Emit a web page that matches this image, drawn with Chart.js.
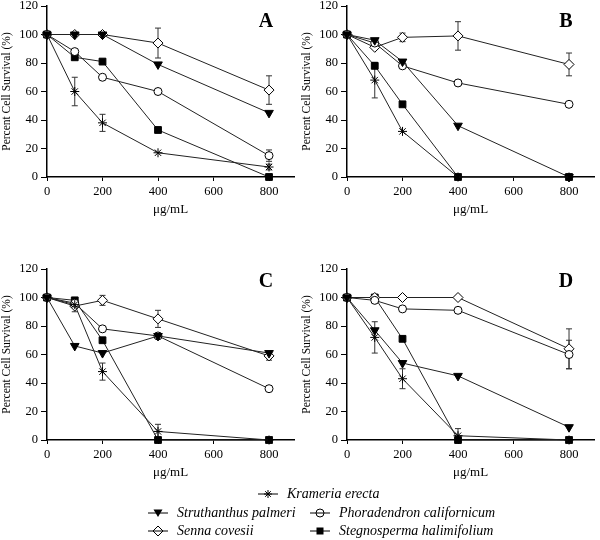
<!DOCTYPE html>
<html lang="en">
<head>
<meta charset="UTF-8">
<title>Percent Cell Survival</title>
<style>
  body { margin: 0; background: #fff; font-family: 'Liberation Serif', 'Times New Roman', serif; color: #000; }
  #page { position: relative; width: 600px; height: 540px; overflow: hidden; }
  .panel { position: absolute; width: 300px; height: 232px; }
  .legend-item { position: absolute; display: flex; align-items: center; height: 18px;
                 font-style: italic; font-size: 14px; white-space: nowrap; z-index: 2; }
  .legend-item svg { margin-right: 9px; }
</style>
</head>
<body>
<div id="page">
  <div class="panel" style="left:0;top:0"><canvas id="chartA" width="300" height="232"></canvas></div>
  <div class="panel" style="left:300px;top:0"><canvas id="chartB" width="300" height="232"></canvas></div>
  <div class="panel" style="left:0;top:263px"><canvas id="chartC" width="300" height="232"></canvas></div>
  <div class="panel" style="left:300px;top:263px"><canvas id="chartD" width="300" height="232"></canvas></div>

  <div class="legend-item" style="left:258px;top:485px">
    <svg width="20" height="12"><line x1="0" y1="6" x2="20" y2="6" stroke="#000"/>
      <g stroke="#000" stroke-width="1"><line x1="6" y1="6" x2="14" y2="6"/><line x1="10" y1="2" x2="10" y2="10"/>
      <line x1="7.2" y1="3.2" x2="12.8" y2="8.8"/><line x1="12.8" y1="3.2" x2="7.2" y2="8.8"/></g></svg>
    <span>Krameria erecta</span>
  </div>
  <div class="legend-item" style="left:148px;top:504px">
    <svg width="20" height="12"><line x1="0" y1="6" x2="20" y2="6" stroke="#000"/>
      <polygon points="5.5,2.5 14.5,2.5 10,10" fill="#000"/></svg>
    <span>Struthanthus palmeri</span>
  </div>
  <div class="legend-item" style="left:310px;top:504px">
    <svg width="20" height="12"><line x1="0" y1="6" x2="20" y2="6" stroke="#000"/>
      <circle cx="10" cy="6" r="4" fill="#fff" stroke="#000"/><line x1="6" y1="6" x2="14" y2="6" stroke="#000"/></svg>
    <span>Phoradendron californicum</span>
  </div>
  <div class="legend-item" style="left:148px;top:522px">
    <svg width="20" height="12"><line x1="0" y1="6" x2="20" y2="6" stroke="#000"/>
      <polygon points="10,1 15,6 10,11 5,6" fill="#fff" stroke="#000"/><line x1="5" y1="6" x2="15" y2="6" stroke="#000"/></svg>
    <span>Senna covesii</span>
  </div>
  <div class="legend-item" style="left:310px;top:522px">
    <svg width="20" height="12"><line x1="0" y1="6" x2="20" y2="6" stroke="#000"/>
      <rect x="6.5" y="2.5" width="7" height="7" fill="#000"/></svg>
    <span>Stegnosperma halimifolium</span>
  </div>
</div>

<script src="https://cdn.jsdelivr.net/npm/chart.js"></script>
<script>
// doses (x) and tick labels
const doses = [0, 100, 200, 400, 800];
const xTicks = [0, 200, 400, 600, 800];
const yTicks = [0, 20, 40, 60, 80, 100, 120];

const seriesNames = ['Krameria erecta', 'Struthanthus palmeri', 'Phoradendron californicum',
                     'Senna covesii', 'Stegnosperma halimifolium'];

// Panel A
const aKrameria     = [100, 60, 38, 17, 7];
const aStruthanthus = [100, 100, 100, 79, 45];
const aPhoradendron = [100, 88, 70, 60, 15];
const aSenna        = [100, 100, 100, 94, 61];
const aStegnosperma = [100, 84, 81, 33, 0];
const aKrameriaErr     = [0, 10, 6, 0, 2];
const aPhoradendronErr = [0, 0, 0, 0, 4];
const aSennaErr        = [0, 0, 0, 10.5, 10];

// Panel B
const bKrameria     = [100, 68, 32, 0, 0];
const bStruthanthus = [100, 96, 81, 36, 0];
const bPhoradendron = [100, 94, 78, 66, 51];
const bSenna        = [100, 91, 98, 99, 79];
const bStegnosperma = [100, 78, 51, 0, 0];
const bKrameriaErr = [0, 12.5, 0, 0, 0];
const bSennaErr    = [0, 0, 3, 10, 8];

// Panel C
const cKrameria     = [100, 95, 48, 6, 0];
const cStruthanthus = [100, 66, 61, 73, 61];
const cPhoradendron = [100, 96, 78, 73, 36];
const cSenna        = [100, 94, 98, 85, 59];
const cStegnosperma = [100, 98, 70, 0, 0];
const cKrameriaErr = [0, 0, 6, 5, 0];
const cSennaErr    = [0, 4, 3.5, 6, 3];

// Panel D
const dKrameria     = [100, 72, 43, 3, 0];
const dStruthanthus = [100, 77, 54, 45, 9];
const dPhoradendron = [100, 98, 92, 91, 60];
const dSenna        = [100, 100, 100, 100, 64];
const dStegnosperma = [100, 100, 71, 0, 0];
const dKrameriaErr     = [0, 11, 7, 5, 0];
const dPhoradendronErr = [0, 0, 0, 0, 10];
const dSennaErr        = [0, 0, 0, 0, 14];

const serif = "'Liberation Serif', 'Times New Roman', serif";
Chart.defaults.font.family = serif;
Chart.defaults.color = '#000';

// marker look per series
const markerStyles = [
  { pointStyle: 'star',     pointRadius: 4.5, pointBackgroundColor: '#000', pointRotation: 0 },
  { pointStyle: 'triangle', pointRadius: 5,   pointBackgroundColor: '#000', pointRotation: 180 },
  { pointStyle: 'circle',   pointRadius: 4,   pointBackgroundColor: '#fff', pointRotation: 0 },
  { pointStyle: 'rectRot',  pointRadius: 5,   pointBackgroundColor: '#fff', pointRotation: 0 },
  { pointStyle: 'rect',     pointRadius: 4.8, pointBackgroundColor: '#000', pointRotation: 0 }
];

// vertical error bars with caps, drawn under the markers
const errorBars = {
  id: 'errorBars',
  beforeDatasetsDraw(chart) {
    const { ctx, scales: { x, y } } = chart;
    ctx.save();
    ctx.strokeStyle = '#333';
    ctx.lineWidth = 1;
    chart.data.datasets.forEach(ds => {
      if (!ds.errorBars) return;
      ds.errorBars.forEach((e, i) => {
        if (!e) return;
        const v = ds.data[i].y;
        const px = x.getPixelForValue(ds.data[i].x);
        const top = y.getPixelForValue(v + e);
        const bot = y.getPixelForValue(v - e);
        ctx.beginPath();
        ctx.moveTo(px, top); ctx.lineTo(px, bot);
        ctx.moveTo(px - 3, top); ctx.lineTo(px + 3, top);
        ctx.moveTo(px - 3, bot); ctx.lineTo(px + 3, bot);
        ctx.stroke();
      });
    });
    ctx.restore();
  }
};

// bold panel letter in the upper right of the plot
const panelLetter = {
  id: 'panelLetter',
  afterDraw(chart, args, opts) {
    const { ctx, chartArea } = chart;
    ctx.save();
    ctx.font = 'bold 20px ' + serif;
    ctx.fillStyle = '#000';
    ctx.textAlign = 'center';
    ctx.textBaseline = 'alphabetic';
    ctx.fillText(opts.text, chartArea.left + 219, chartArea.top + opts.dy);
    ctx.restore();
  }
};

function makePanel(id, letter, letterDy, values, errors) {
  const datasets = values.map((vals, k) => Object.assign({
    label: seriesNames[k],
    data: doses.map((d, i) => ({ x: d, y: vals[i] })),
    errorBars: errors[k],
    borderColor: '#222',
    borderWidth: 1,
    pointBorderColor: '#000',
    pointBorderWidth: 1,
    tension: 0,
    fill: false,
    clip: false
  }, markerStyles[k]));

  new Chart(document.getElementById(id), {
    type: 'line',
    data: { datasets },
    plugins: [errorBars, panelLetter],
    options: {
      responsive: false,
      animation: false,
      layout: { padding: { top: 6, right: 2, left: 0, bottom: 0 } },
      plugins: {
        legend: { display: false },
        tooltip: { enabled: false },
        panelLetter: { text: letter, dy: letterDy }
      },
      scales: {
        x: {
          type: 'linear', min: 0, max: 890,
          afterBuildTicks: s => { s.ticks = xTicks.map(v => ({ value: v })); },
          afterFit: s => { s.height = 55; s.paddingLeft = 0; s.paddingRight = 0; },
          border: { color: '#000', width: 1.5 },
          grid: { drawOnChartArea: false, tickLength: 4, color: '#000' },
          ticks: { color: '#000', font: { size: 12.5 }, padding: 3, maxRotation: 0 },
          title: { display: true, text: 'μg/mL', color: '#000', font: { size: 13 }, padding: { top: 0, bottom: 15 } }
        },
        y: {
          min: 0, max: 120,
          afterBuildTicks: s => { s.ticks = yTicks.map(v => ({ value: v })); },
          afterFit: s => { s.width = 47; s.paddingTop = 0; s.paddingBottom = 0; },
          border: { color: '#000', width: 1.5 },
          grid: { drawOnChartArea: false, tickLength: 6, color: '#000' },
          ticks: { color: '#000', font: { size: 12.5 }, padding: 3 },
          title: { display: true, text: 'Percent Cell Survival (%)', color: '#000', font: { size: 11.5 }, padding: { top: 0, bottom: 0 } }
        }
      }
    }
  });
}

makePanel('chartA', 'A', 21,
  [aKrameria, aStruthanthus, aPhoradendron, aSenna, aStegnosperma],
  [aKrameriaErr, null, aPhoradendronErr, aSennaErr, null]);
makePanel('chartB', 'B', 21,
  [bKrameria, bStruthanthus, bPhoradendron, bSenna, bStegnosperma],
  [bKrameriaErr, null, null, bSennaErr, null]);
makePanel('chartC', 'C', 18,
  [cKrameria, cStruthanthus, cPhoradendron, cSenna, cStegnosperma],
  [cKrameriaErr, null, null, cSennaErr, null]);
makePanel('chartD', 'D', 18,
  [dKrameria, dStruthanthus, dPhoradendron, dSenna, dStegnosperma],
  [dKrameriaErr, null, dPhoradendronErr, dSennaErr, null]);
</script>
</body>
</html>
